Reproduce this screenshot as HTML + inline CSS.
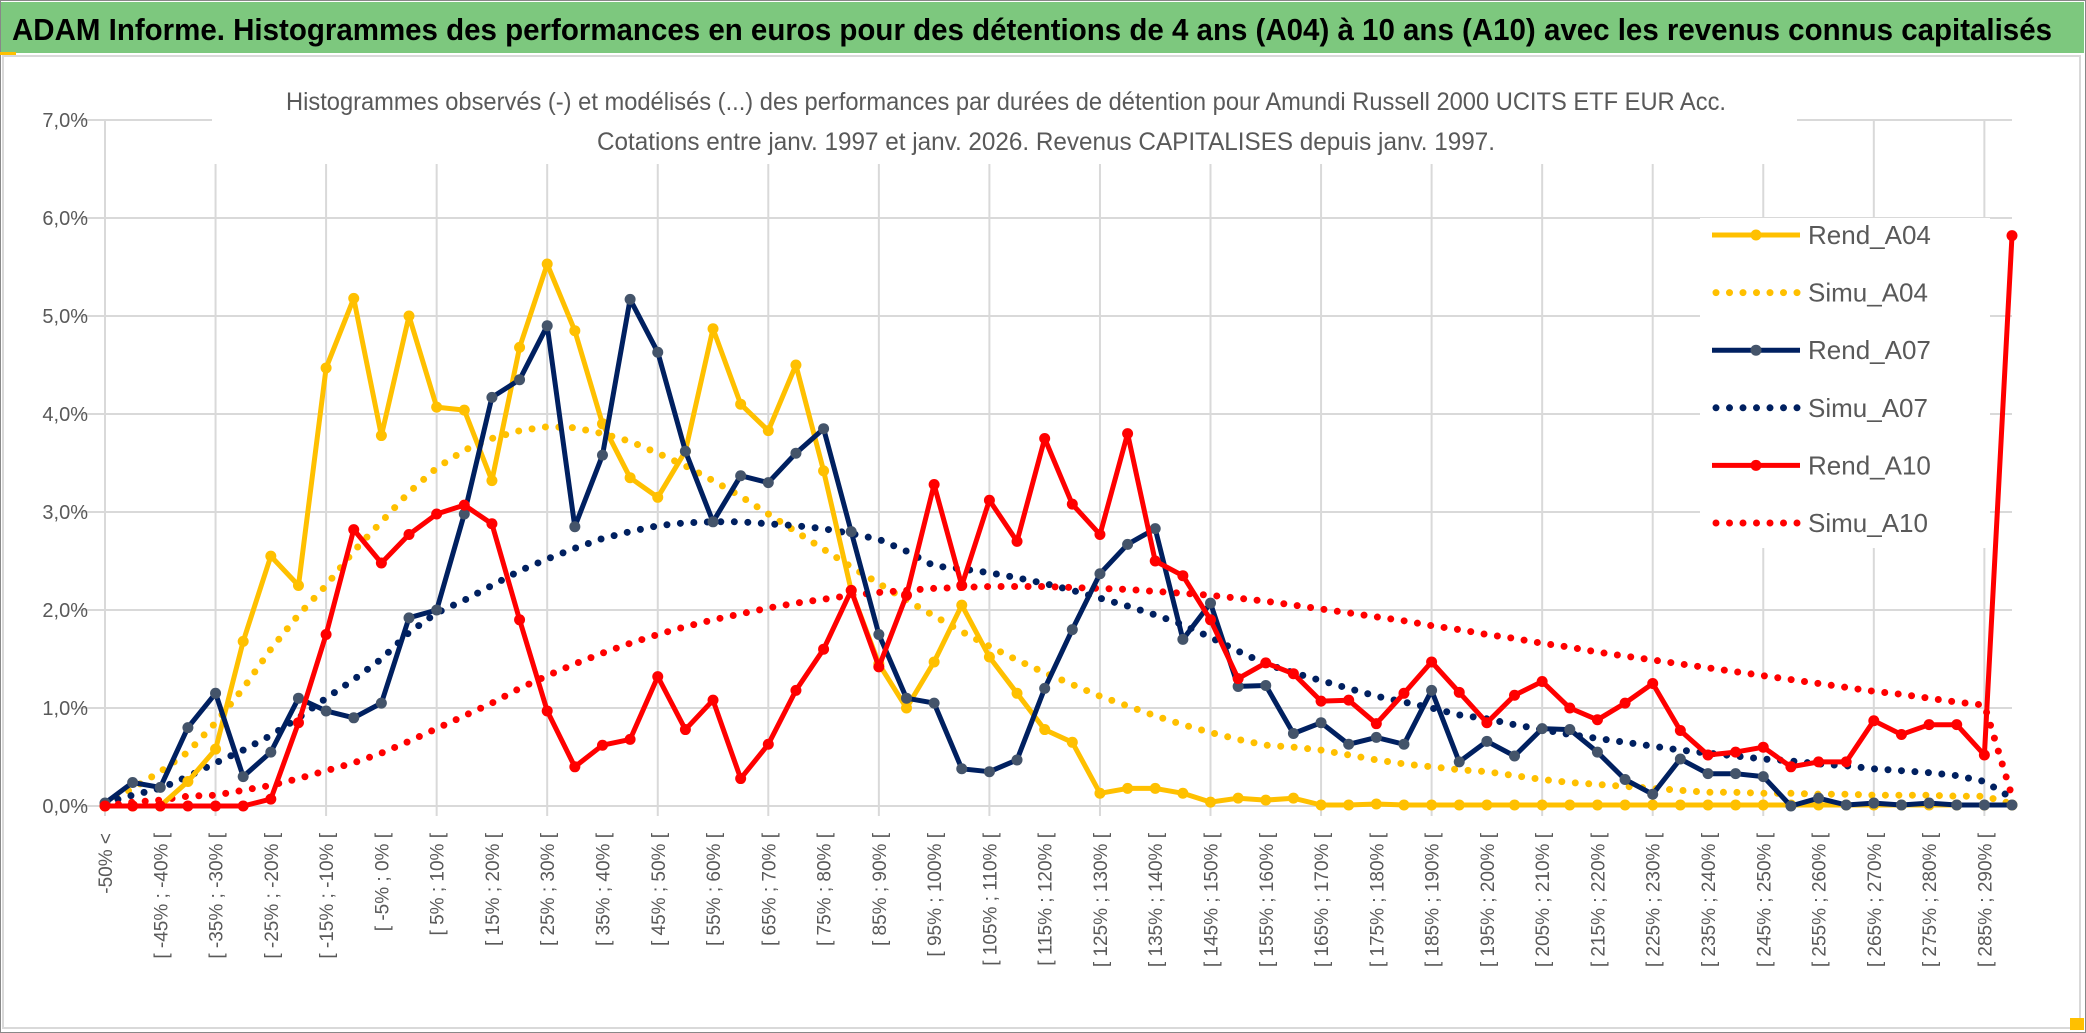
<!DOCTYPE html>
<html><head><meta charset="utf-8"><style>
html,body{margin:0;padding:0;background:#fff;}
svg{display:block;}
text{font-family:"Liberation Sans",sans-serif;}
</style></head><body>
<svg id="chart" xmlns="http://www.w3.org/2000/svg" width="2086" height="1033" viewBox="0 0 2086 1033">
<rect x="0" y="0" width="2086" height="1033" fill="#fff"/>
<rect x="1" y="2" width="2083" height="51" fill="#7DC87E"/>
<text x="12" y="40" font-size="31" font-weight="bold" fill="#000" textLength="2040" lengthAdjust="spacingAndGlyphs">ADAM Informe. Histogrammes des performances en euros pour des détentions de 4 ans (A04) à 10 ans (A10) avec les revenus connus capitalisés</text>
<rect x="3" y="56" width="2077" height="972" fill="none" stroke="#d9d9d9" stroke-width="2"/>
<rect x="0.5" y="0.5" width="2085" height="1032" fill="none" stroke="#888" stroke-width="1"/>
<rect x="0" y="52" width="16" height="3" fill="#FFC000"/>
<rect x="2070" y="1018" width="14" height="12" fill="#FFC000"/>
<g id="grid"></g>
<rect x="212" y="72" width="1585" height="92" fill="#fff"/>
<rect x="1700" y="218" width="290" height="330" fill="#fff"/>
<g id="yaxis"></g>
<g id="xaxis"></g>
<g id="series"></g>
<text x="286" y="110" font-size="25" fill="#595959" textLength="1440" lengthAdjust="spacingAndGlyphs">Histogrammes observés (-) et modélisés (...) des performances par durées de détention pour Amundi Russell 2000 UCITS ETF EUR Acc.</text>
<text x="597" y="150" font-size="25" fill="#595959" textLength="898" lengthAdjust="spacingAndGlyphs">Cotations entre janv. 1997 et janv. 2026. Revenus CAPITALISES depuis janv. 1997.</text>
<g id="legend"></g>
</svg>
<script>
const rendA04 = [0,0,0,0.25,0.58,1.68,2.55,2.25,4.47,5.18,3.78,5.0,4.07,4.04,3.32,4.68,5.53,4.85,3.9,3.35,3.15,3.62,4.87,4.1,3.83,4.5,3.42,2.2,1.45,1.0,1.47,2.05,1.52,1.15,0.78,0.65,0.13,0.18,0.18,0.13,0.04,0.08,0.06,0.08,0.01,0.01,0.02,0.01,0.01,0.01,0.01,0.01,0.01,0.01,0.01,0.01,0.01,0.01,0.01,0.01,0.01,0.01,0.01,0.01,0.01,0.01,0.01,0.01,0.01,0.01];
const simuA04 = [0.02,0.18,0.35,0.55,0.85,1.2,1.6,1.95,2.25,2.6,2.9,3.2,3.45,3.63,3.75,3.83,3.87,3.86,3.8,3.72,3.6,3.47,3.32,3.16,2.98,2.8,2.62,2.44,2.27,2.1,1.94,1.78,1.63,1.49,1.36,1.24,1.12,1.02,0.92,0.83,0.75,0.68,0.62,0.6,0.57,0.52,0.47,0.43,0.4,0.37,0.35,0.31,0.27,0.24,0.22,0.2,0.18,0.16,0.14,0.14,0.13,0.13,0.12,0.12,0.11,0.11,0.11,0.1,0.1,0.02];
const rendA07 = [0.03,0.24,0.19,0.8,1.15,0.3,0.55,1.1,0.97,0.9,1.05,1.92,2.0,2.98,4.17,4.35,4.9,2.85,3.58,5.17,4.63,3.62,2.9,3.37,3.3,3.6,3.85,2.8,1.75,1.1,1.05,0.38,0.35,0.47,1.2,1.8,2.37,2.67,2.83,1.7,2.07,1.22,1.23,0.74,0.85,0.63,0.7,0.63,1.18,0.45,0.66,0.51,0.79,0.78,0.55,0.27,0.12,0.48,0.33,0.33,0.3,0.0,0.08,0.01,0.03,0.01,0.03,0.01,0.01,0.01];
const simuA07 = [0.03,0.11,0.18,0.3,0.44,0.57,0.72,0.9,1.1,1.29,1.5,1.77,1.97,2.1,2.25,2.4,2.52,2.63,2.73,2.8,2.86,2.89,2.9,2.9,2.88,2.86,2.83,2.78,2.72,2.6,2.45,2.42,2.38,2.33,2.27,2.2,2.12,2.04,1.95,1.85,1.72,1.58,1.45,1.36,1.28,1.2,1.12,1.06,1.0,0.93,0.89,0.83,0.78,0.73,0.69,0.65,0.61,0.57,0.54,0.51,0.48,0.46,0.43,0.41,0.38,0.36,0.34,0.31,0.25,0.08];
const rendA10 = [0,0,0,0,0,0,0.07,0.85,1.75,2.82,2.48,2.77,2.98,3.07,2.88,1.9,0.97,0.4,0.62,0.68,1.32,0.78,1.08,0.28,0.63,1.18,1.6,2.2,1.42,2.15,3.28,2.25,3.12,2.7,3.75,3.08,2.77,3.8,2.5,2.35,1.9,1.3,1.46,1.35,1.07,1.08,0.84,1.15,1.47,1.16,0.85,1.13,1.27,1.0,0.88,1.05,1.25,0.77,0.52,0.55,0.6,0.4,0.45,0.45,0.87,0.73,0.83,0.83,0.52,5.82];
const simuA10 = [0,0.04,0.06,0.1,0.11,0.16,0.21,0.28,0.36,0.44,0.54,0.66,0.79,0.92,1.05,1.2,1.33,1.45,1.56,1.66,1.75,1.83,1.9,1.96,2.02,2.07,2.11,2.15,2.18,2.2,2.22,2.23,2.24,2.24,2.24,2.23,2.22,2.21,2.19,2.17,2.15,2.12,2.09,2.05,2.01,1.97,1.93,1.89,1.84,1.8,1.75,1.71,1.66,1.62,1.57,1.53,1.49,1.45,1.41,1.37,1.33,1.29,1.25,1.21,1.17,1.14,1.1,1.06,1.03,0.1];
const yTicks = [0,1,2,3,4,5,6,7];
const yTickLabels = ["0,0%","1,0%","2,0%","3,0%","4,0%","5,0%","6,0%","7,0%"];
const categories = ["-50% <"];
for (let k = 1; k < 70; k++) { categories.push("[ " + (-55 + 5 * k) + "% ; " + (-50 + 5 * k) + "% ["); }

const NS = "http://www.w3.org/2000/svg";
const X0 = 105, X1 = 2012, Y0 = 806, YTOP = 120;
const xScale = i => X0 + (X1 - X0) * i / (categories.length - 1);
const yScale = v => Y0 - (Y0 - YTOP) * v / 7;
function mk(tag, attrs, parent) {
  const e = document.createElementNS(NS, tag);
  for (const k in attrs) e.setAttribute(k, attrs[k]);
  parent.appendChild(e);
  return e;
}
const grid = document.getElementById('grid');
yTicks.forEach((t, i) => {
  const l = mk('line', {x1: X0 - 26, x2: X1, y1: yScale(t), y2: yScale(t), stroke: '#d9d9d9', 'stroke-width': 2}, grid);
  
  
});
for (let i = 0; i < categories.length; i += 4) {
  const l = mk('line', {x1: xScale(i), x2: xScale(i), y1: yScale(7), y2: Y0 + 10, stroke: '#d9d9d9', 'stroke-width': 2}, grid);
  
  
}
const yaxis = document.getElementById('yaxis');
yTicks.forEach((t, i) => {
  const tx = mk('text', {x: 88, y: yScale(t) + 7, 'font-size': 20, fill: '#595959', 'text-anchor': 'end'}, yaxis);
  tx.textContent = yTickLabels[i];
  
  
});
const xaxis = document.getElementById('xaxis');
for (let i = 0; i < categories.length; i += 2) {
  const x = xScale(i) + 7, y = 833;
  const tx = mk('text', {x: x, y: y, 'font-size': 19, fill: '#595959', 'text-anchor': 'end', transform: 'rotate(-90 ' + x + ' ' + y + ')'}, xaxis);
  tx.textContent = categories[i];
  
  
}
const series = document.getElementById('series');
function pts(arr) { return arr.map((v, i) => xScale(i).toFixed(1) + ',' + yScale(v).toFixed(1)).join(' '); }
function dotted(arr, color, name) {
  const p = mk('polyline', {points: pts(arr), fill: 'none', stroke: color, 'stroke-width': 7, 'stroke-linecap': 'round', 'stroke-dasharray': '0 13.5'}, series);
  
  
}
function rend(arr, color, mcolor, name) {
  const g = mk('g', {}, series);
  
  
  const p = mk('polyline', {points: pts(arr), fill: 'none', stroke: color, 'stroke-width': 5, 'stroke-linejoin': 'round'}, g);
  
  
  arr.forEach((v, i) => {
    const c = mk('circle', {cx: xScale(i), cy: yScale(v), r: 5.5, fill: mcolor}, g);
    
    
  });
}
dotted(simuA04, '#FFC000', 'simu-a04-line');
dotted(simuA07, '#002060', 'simu-a07-line');
dotted(simuA10, '#FF0000', 'simu-a10-line');
rend(rendA04, '#FFC000', '#FFC000', 'rend-a04');
rend(rendA07, '#002060', '#44546A', 'rend-a07');
rend(rendA10, '#FF0000', '#FF0000', 'rend-a10');

const legendNames = ["Rend_A04","Simu_A04","Rend_A07","Simu_A07","Rend_A10","Simu_A10"];
const legendColors = ["#FFC000","#FFC000","#002060","#002060","#FF0000","#FF0000"];
const legend = document.getElementById('legend');
legendNames.forEach((n, i) => {
  const y = 235 + i * 57.6;
  const g = mk('g', {}, legend);
  
  
  if (i % 2 === 0) {
    mk('line', {x1: 1712, x2: 1800, y1: y, y2: y, stroke: legendColors[i], 'stroke-width': 5}, g);
    mk('circle', {cx: 1756, cy: y, r: 5.5, fill: i === 2 ? '#44546A' : legendColors[i]}, g);
  } else {
    mk('line', {x1: 1716, x2: 1800, y1: y, y2: y, stroke: legendColors[i], 'stroke-width': 7, 'stroke-linecap': 'round', 'stroke-dasharray': '0 13.5'}, g);
  }
  const t = mk('text', {x: 1808, y: y + 9, 'font-size': 26, fill: '#595959'}, g);
  t.textContent = n;
});
</script>
</body></html>
